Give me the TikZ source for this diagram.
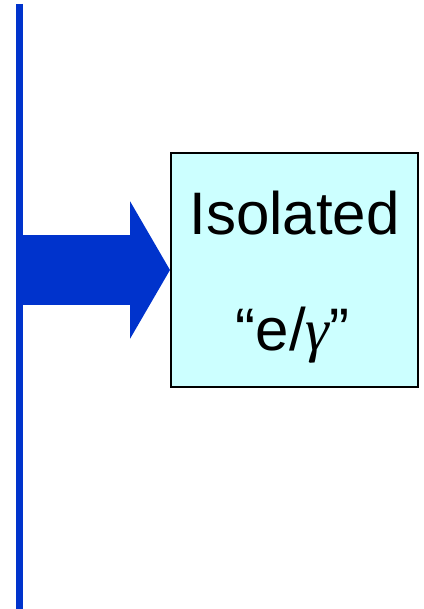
\documentclass[tikz,border=0pt]{standalone}
\usepackage{fontspec}
\setmainfont{Liberation Sans}
\newfontfamily\grkfont{Liberation Serif}
\usepackage{tikz}
\usetikzlibrary{positioning, arrows.meta}
\definecolor{trigblue}{RGB}{0,51,204}
\definecolor{boxcyan}{RGB}{204,255,255}
\tikzset{
  vline/.style={draw=trigblue, line width=7pt},
  isobox/.style={draw=black, line width=2pt, fill=boxcyan,
                 minimum width=247pt, minimum height=234pt, inner sep=0pt},
  btxt/.style={anchor=base, inner sep=0pt, font=\fontsize{60}{62}\selectfont},
  barr/.style={-{Triangle[length=40pt, width=136pt]}, draw=trigblue, fill=trigblue,
               line width=70pt},
}
\begin{document}
\begin{tikzpicture}[x=1pt, y=-1pt]
        \useasboundingbox (0,0) rectangle (423,609);
        \coordinate (top) at (19.5,4);
        \coordinate (bot) at (19.5,609);
        \draw[vline](top)--(bot);
        \node[isobox](iso) at (294.5,270){};
        \node[btxt](l1) at (294.5,235){Isolated};
        \node[btxt](l2) at (292.5,350){“e/{\grkfont\itshape γ}”};
        \coordinate (src) at (19.5,270);
        \draw[barr](src)--(iso.west);
      \end{tikzpicture}
\end{document}
